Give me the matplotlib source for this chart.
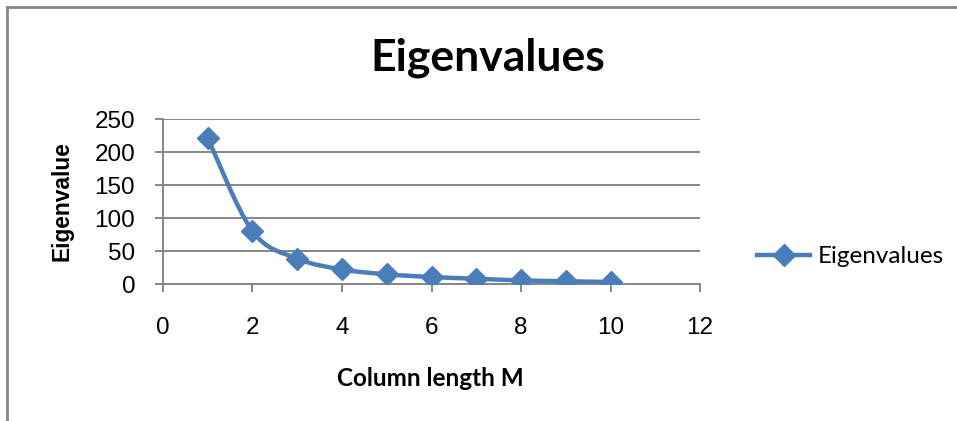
import numpy as np
import matplotlib.pyplot as plt
from matplotlib.path import Path
from matplotlib.patches import PathPatch
from matplotlib.lines import Line2D

# data
column_length = [1, 2, 3, 4, 5, 6, 7, 8, 9, 10]
eigenvalues = [221, 80, 38.5, 22, 14.7, 10.6, 8, 5.5, 4.2, 3]
x_ticks = [0, 2, 4, 6, 8, 10, 12]
y_ticks = [0, 50, 100, 150, 200, 250]

BLUE = "#4a7ebb"
GRAY = "#868686"


def smooth_path(x, y):
    """Excel-like smoothed line: cubic bezier segments (catmull-rom style)."""
    x = np.asarray(x, float)
    y = np.asarray(y, float)
    n = len(x)
    verts = [(x[0], y[0])]
    codes = [Path.MOVETO]
    for i in range(n - 1):
        x0, y0 = (x[i - 1], y[i - 1]) if i > 0 else (x[i], y[i])
        x3, y3 = (x[i + 2], y[i + 2]) if i + 2 < n else (x[i + 1], y[i + 1])
        c1 = (x[i] + (x[i + 1] - x0) / 6, y[i] + (y[i + 1] - y0) / 6)
        c2 = (x[i + 1] - (x3 - x[i]) / 6, y[i + 1] - (y3 - y[i]) / 6)
        verts += [c1, c2, (x[i + 1], y[i + 1])]
        codes += [Path.CURVE4] * 3
    return Path(verts, codes)


def main():
    fig = plt.figure(figsize=(9.57, 4.21), dpi=100, facecolor="white")
    ax = fig.add_axes([0.1703, 0.3254, 0.7315 - 0.1703, 0.7173 - 0.3254])

    ax.add_patch(PathPatch(smooth_path(column_length, eigenvalues), facecolor="none",
                           edgecolor=BLUE, linewidth=3.2, capstyle="round", zorder=3))
    ax.plot(column_length, eigenvalues, linestyle="None", marker="D", markersize=11,
            color=BLUE, zorder=4)

    ax.set_xlim(0, 12)
    ax.set_ylim(0, 250)
    ax.set_xticks(x_ticks)
    ax.set_yticks(y_ticks)
    ax.yaxis.grid(True, color=GRAY, linewidth=1.4)
    ax.set_axisbelow(True)
    for s in ["top", "right"]:
        ax.spines[s].set_visible(False)
    for s in ["left", "bottom"]:
        ax.spines[s].set_color(GRAY)
        ax.spines[s].set_linewidth(1.4)
    ax.tick_params(axis="both", direction="out", length=6, width=1.4, color=GRAY,
                   labelsize=17.5)
    ax.tick_params(axis="x", pad=18)
    ax.tick_params(axis="y", pad=14)
    for lab in ax.get_xticklabels() + ax.get_yticklabels():
        lab.set_fontfamily("Liberation Sans")

    fig.text(0.51, 0.862, "Eigenvalues", ha="center", va="center",
             fontsize=32, fontweight="bold", family="Lato")
    fig.text(0.45, 0.102, "Column length M", ha="center", va="center",
             fontsize=17.5, fontweight="bold", family="Lato")
    fig.text(0.065, 0.522, "Eigenvalue", ha="center", va="center", rotation=90,
             fontsize=16.4, fontweight="bold", family="Liberation Sans")

    handle = Line2D([], [], color=BLUE, linewidth=3.2, marker="D", markersize=11)
    fig.legend([handle], ["Eigenvalues"], loc="center left",
               bbox_to_anchor=(0.768, 0.39), frameon=False,
               handlelength=2.2, handletextpad=0.3,
               prop={"family": "Lato", "size": 17.5})

    # chart area border (top and left edges visible)
    fig.add_artist(Line2D([0.0073, 0.0073], [0, 0.984], transform=fig.transFigure,
                          color=GRAY, linewidth=2))
    fig.add_artist(Line2D([0.0073, 1], [0.984, 0.984], transform=fig.transFigure,
                          color=GRAY, linewidth=2))

    fig.savefig("out.png", format="png", dpi=100)


if __name__ == "__main__":
    main()
